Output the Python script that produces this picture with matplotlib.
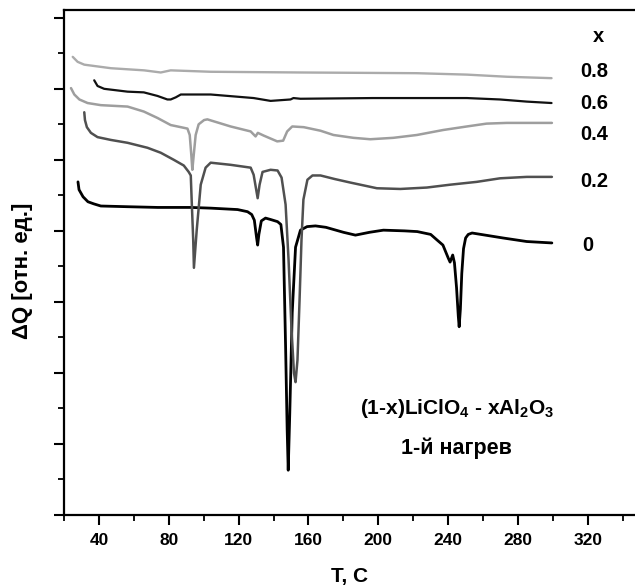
import matplotlib
matplotlib.use("Agg")
import matplotlib.pyplot as plt
from matplotlib.ticker import MultipleLocator, NullFormatter

plt.rcParams['font.family'] = ['Liberation Sans', 'DejaVu Sans']
plt.rcParams['mathtext.fontset'] = 'custom'
plt.rcParams['mathtext.rm'] = 'Liberation Sans:bold'
plt.rcParams['mathtext.it'] = 'Liberation Sans:bold'
plt.rcParams['mathtext.bf'] = 'Liberation Sans:bold'

# DSC heating curves, (1-x)LiClO4 - xAl2O3, first heating
t_x0 = [28.0, 28.6, 30.9, 33.7, 37.1, 41.1, 56.6, 73.7, 92.6, 104.0, 119.4, 125.1,
        127.5, 129.0, 130.3, 130.9, 131.6, 133.0, 135.4, 138.3, 142.3, 144.2, 145.7,
        146.9, 147.8, 148.4, 149.3, 150.7, 152.6, 155.4, 159.2, 164.0, 170.0, 180.0,
        186.9, 195.0, 202.9, 215.0, 222.3, 230.0, 233.7, 237.0, 240.0, 241.1, 242.6,
        243.6, 244.8, 245.8, 246.3, 247.0, 247.8, 248.8, 250.0, 251.5, 253.7, 271.4,
        285.0, 299.4]
q_x0 = [4.69, 4.58, 4.48, 4.41, 4.38, 4.35, 4.34, 4.33, 4.33, 4.32, 4.30, 4.27,
        4.23, 4.15, 3.90, 3.80, 3.95, 4.14, 4.18, 4.16, 4.13, 4.09, 3.77,
        2.37, 1.20, 0.63, 1.44, 2.85, 3.77, 4.01, 4.06, 4.07, 4.05, 3.98,
        3.94, 3.98, 4.01, 4.00, 3.99, 3.95, 3.87, 3.80, 3.62, 3.56, 3.66,
        3.55, 3.20, 2.80, 2.65, 2.90, 3.40, 3.75, 3.90, 3.95, 3.97, 3.90,
        3.85, 3.83]

t_x02 = [31.6, 32.0, 33.1, 35.4, 39.2, 46.9, 56.4, 67.8, 75.4, 82.9, 88.6, 91.4,
         92.6, 93.1, 94.0, 94.4, 96.0, 98.3, 101.1, 104.0, 115.4, 126.9, 128.6,
         130.9, 132.0, 133.7, 138.3, 142.3, 144.6, 146.9, 148.6, 150.3, 151.7, 152.6,
         153.7, 154.9, 156.0, 157.1, 159.4, 162.3, 166.9, 175.0, 184.0, 199.2, 212.6,
         227.8, 241.1, 256.4, 269.7, 285.0, 299.4]
q_x02 = [5.67, 5.56, 5.46, 5.38, 5.32, 5.28, 5.24, 5.17, 5.10, 5.00, 4.92, 4.83,
         4.78, 4.44, 3.87, 3.48, 4.01, 4.65, 4.89, 4.96, 4.93, 4.89, 4.79,
         4.46, 4.65, 4.83, 4.86, 4.85, 4.75, 4.37, 3.59, 2.61, 2.00, 1.87,
         2.18, 3.03, 3.87, 4.44, 4.72, 4.78, 4.78, 4.73, 4.68, 4.60, 4.59,
         4.61, 4.65, 4.69, 4.74, 4.76, 4.76]

t_x04 = [24.0, 25.9, 28.8, 33.5, 41.1, 56.4, 65.7, 73.5, 81.1, 86.9, 90.7, 92.0,
         92.9, 93.5, 94.3, 95.4, 97.1, 100.2, 102.1, 115.4, 126.9, 129.7, 131.0,
         134.5, 142.1, 145.5, 147.8, 150.7, 157.3, 166.9, 174.3, 185.7, 195.4, 208.6,
         222.1, 237.1, 250.7, 262.0, 273.5, 299.4]
q_x04 = [6.01, 5.92, 5.85, 5.80, 5.77, 5.75, 5.68, 5.59, 5.49, 5.46, 5.44, 5.35,
         5.07, 4.86, 5.07, 5.35, 5.50, 5.56, 5.57, 5.47, 5.40, 5.33, 5.38,
         5.34, 5.26, 5.27, 5.40, 5.47, 5.46, 5.41, 5.35, 5.31, 5.29, 5.31,
         5.35, 5.42, 5.47, 5.51, 5.52, 5.52]

t_x06 = [37.3, 39.2, 43.0, 56.4, 65.7, 73.5, 79.2, 81.1, 84.0, 86.9, 104.0, 128.6,
         138.3, 149.7, 151.4, 155.4, 197.0, 250.7, 269.7, 285.0, 299.2]
q_x06 = [6.12, 6.04, 6.00, 5.96, 5.95, 5.90, 5.85, 5.85, 5.88, 5.92, 5.92, 5.87,
         5.83, 5.85, 5.87, 5.86, 5.87, 5.87, 5.85, 5.82, 5.80]

t_x08 = [25.0, 27.8, 31.6, 46.9, 65.9, 75.4, 81.1, 104.0, 155.4, 222.0, 250.7,
         273.5, 299.2]
q_x08 = [6.45, 6.38, 6.34, 6.29, 6.26, 6.23, 6.26, 6.24, 6.23, 6.22, 6.20,
         6.17, 6.15]

series_labels = ["0", "0.2", "0.4", "0.6", "0.8"]
label_q = [3.80, 4.69, 5.35, 5.80, 6.24]
label_t = [317.0, 315.4, 315.4, 315.4, 315.4]

fig = plt.figure(figsize=(6.35, 5.87), dpi=100)
ax = fig.add_axes([0.1008, 0.1227, 0.8992, 0.8603])

line_kw = dict(solid_joinstyle="round", solid_capstyle="round")
ax.plot(t_x0, q_x0, color="#000000", lw=2.0, **line_kw)
ax.plot(t_x02, q_x02, color="#505050", lw=1.8, **line_kw)
ax.plot(t_x04, q_x04, color="#9e9e9e", lw=1.8, **line_kw)
ax.plot(t_x06, q_x06, color="#111111", lw=1.6, **line_kw)
ax.plot(t_x08, q_x08, color="#ababab", lw=1.7, **line_kw)

for lab, t, q in zip(series_labels, label_t, label_q):
    ax.text(t, q, lab, fontsize=14.5, fontweight="bold", ha="left", va="center")
ax.text(322.9, 6.73, "x", fontsize=14.5, fontweight="bold", ha="left", va="center")

ax.text(245, 1.50, "(1-x)LiClO$_4$ - xAl$_2$O$_3$", fontsize=15,
        fontweight="bold", ha="center", va="center")
ax.text(245, 0.94, "1-й нагрев", fontsize=15.5, fontweight="bold",
        ha="center", va="center")

ax.set_xlim(20, 347)
ax.set_ylim(0, 7.11)
ax.xaxis.set_minor_locator(MultipleLocator(20))
ax.yaxis.set_major_locator(MultipleLocator(1))
ax.yaxis.set_minor_locator(MultipleLocator(0.5))
ax.yaxis.set_major_formatter(NullFormatter())
ax.set_xticks([40, 80, 120, 160, 200, 240, 280, 320])

ax.spines['right'].set_visible(False)
for s in ('left', 'bottom', 'top'):
    ax.spines[s].set_linewidth(1.6)
ax.tick_params(which='major', direction='out', length=7, width=1.5,
               labelsize=12.5, pad=6, top=False, right=False)
ax.tick_params(which='minor', direction='out', length=4, width=1.3,
               top=False, right=False)
for lbl in ax.get_xticklabels():
    lbl.set_fontweight('bold')

ax.set_xlabel("T, C", fontsize=15, fontweight="bold", labelpad=14)
ax.set_ylabel("ΔQ [отн. ед.]", fontsize=16, fontweight="bold")
ax.yaxis.set_label_coords(-0.054, 0.483)

fig.savefig("out.png", dpi=100)
